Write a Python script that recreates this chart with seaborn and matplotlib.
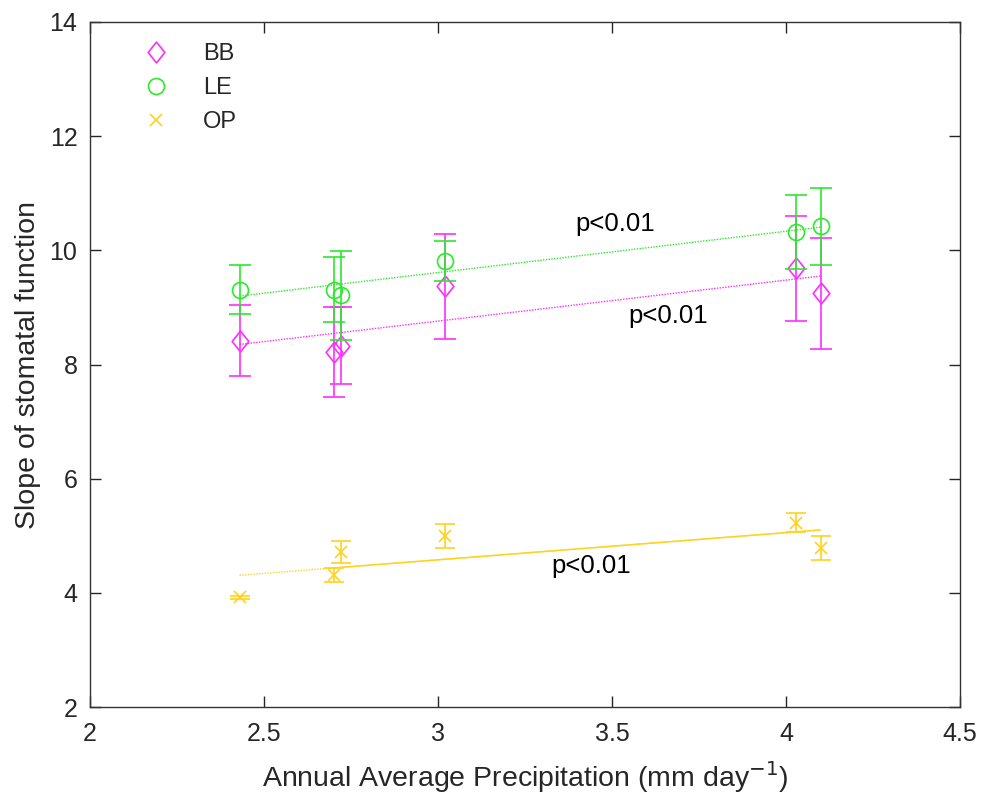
import numpy as np
import matplotlib
matplotlib.use("Agg")
import matplotlib.pyplot as plt
import seaborn as sns
from matplotlib.lines import Line2D
from matplotlib.path import Path

# Data
precip = [2.43, 2.70, 2.72, 3.02, 4.03, 4.10]
bb_mean = [8.42, 8.22, 8.33, 9.37, 9.69, 9.25]
bb_err = [0.63, 0.79, 0.67, 0.92, 0.92, 0.97]
le_mean = [9.31, 9.31, 9.21, 9.82, 10.32, 10.42]
le_err = [0.43, 0.57, 0.78, 0.35, 0.65, 0.67]
op_mean = [3.92, 4.31, 4.72, 4.99, 5.23, 4.78]
op_err = [0.03, 0.12, 0.19, 0.21, 0.17, 0.21]
series_names = ["BB", "LE", "OP"]
p_labels = ["p<0.01", "p<0.01", "p<0.01"]

sns.set_theme(style="white")
plt.rcParams["font.family"] = ["Liberation Sans", "DejaVu Sans"]

c_bb = "#FF2EFF"
c_le = "#2EE82E"
c_op = "#FFD21F"

diamond = Path([(0, 1), (0.8, 0), (0, -1), (-0.8, 0), (0, 1)],
               [Path.MOVETO, Path.LINETO, Path.LINETO, Path.LINETO, Path.CLOSEPOLY])

fig = plt.figure(figsize=(9.81, 7.99), dpi=100)
ax = fig.add_axes([0.0917, 0.1151, 0.8869, 0.8574])

x = np.array(precip)

# regression lines
for ys, c in [(bb_mean, c_bb), (le_mean, c_le), (op_mean, c_op)]:
    sns.regplot(x=x, y=np.array(ys), ax=ax, scatter=False, ci=None, truncate=True,
                color=c, line_kws=dict(ls=(0, (1, 1)), lw=1.0))
# solid part of OP line
k, b = np.polyfit(x, np.array(op_mean), 1)
xs = np.array([x[1] - 0.015, x[-1]])
ax.plot(xs, k * xs + b, color=c_op, lw=1.1, solid_capstyle="butt")

lw = 1.2
ax.errorbar(x, bb_mean, yerr=bb_err, fmt="none", ecolor=c_bb,
            elinewidth=lw, capsize=8, capthick=lw)
ax.plot(x, bb_mean, ls="none", marker=diamond, ms=15, mfc="none", mec=c_bb, mew=lw)
ax.errorbar(x, le_mean, yerr=le_err, fmt="o", color=c_le, mfc="none", mec=c_le,
            ms=11.5, mew=lw, elinewidth=lw, capsize=8, capthick=lw)
ax.errorbar(x, op_mean, yerr=op_err, fmt="x", color=c_op, mec=c_op,
            ms=9, mew=lw, elinewidth=lw, capsize=7, capthick=lw)

fs = 18
ax.text(3.509, 10.46, p_labels[0], fontsize=18.5, ha="center", va="center", color="black")
ax.text(3.661, 8.85, p_labels[1], fontsize=18.5, ha="center", va="center", color="black")
ax.text(3.44, 4.47, p_labels[2], fontsize=18.5, ha="center", va="center", color="black")

ax.set_xlim(2, 4.5)
ax.set_ylim(2, 14)
ax.set_xticks([2, 2.5, 3, 3.5, 4, 4.5])
ax.set_xticklabels(["2", "2.5", "3", "3.5", "4", "4.5"])
ax.set_yticks([2, 4, 6, 8, 10, 12, 14])
ax.tick_params(direction="in", length=8, width=1, colors="#262626", labelsize=fs,
               top=True, right=True, bottom=True, left=True)
ax.tick_params(axis="x", pad=11)
ax.tick_params(axis="y", pad=9)
for sp in ax.spines.values():
    sp.set_color("#333333")
    sp.set_linewidth(1)
ax.set_xlabel("Annual Average Precipitation (mm day$^{-1}$)", fontsize=20.5, color="#262626",
              labelpad=9)
ax.set_ylabel("Slope of stomatal function", fontsize=20.5, color="#262626", labelpad=6)

handles = [
    Line2D([], [], ls="none", marker=diamond, ms=15, mfc="none", mec=c_bb, mew=lw),
    Line2D([], [], ls="none", marker="o", ms=11.5, mfc="none", mec=c_le, mew=lw),
    Line2D([], [], ls="none", marker="x", ms=9, mec=c_op, mew=lw),
]
ax.legend(handles, series_names, loc="upper left", frameon=False, fontsize=17,
          bbox_to_anchor=(0.024, 1.0), handlelength=2.0, handletextpad=1.0,
          labelspacing=0.5)

fig.savefig("out.png", dpi=100)
